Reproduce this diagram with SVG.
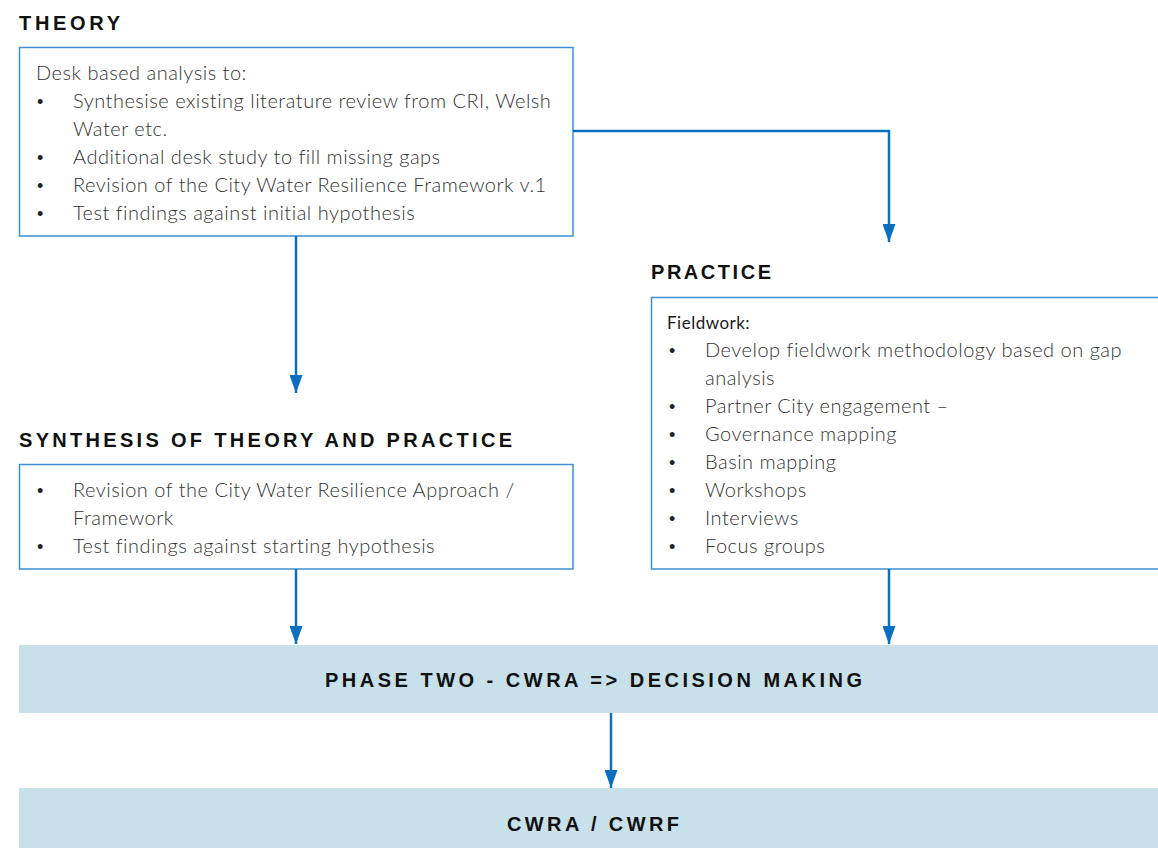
<svg xmlns="http://www.w3.org/2000/svg" width="1158" height="848" viewBox="0 0 1158 848">
<defs>
<style>
.head{font-family:"Liberation Sans",Arial,sans-serif;font-weight:bold;font-size:20px;fill:#111;}
.box{fill:#fff;stroke:#3d8fd1;stroke-width:1.5;}
.band{fill:#c8e0ea;}
.body{font-family:Lato,"Liberation Sans",sans-serif;font-weight:300;font-size:20px;letter-spacing:0.5px;fill:#333;}
.bul{font-family:"Liberation Sans",Arial,sans-serif;font-size:18px;fill:#222;}
.lab{font-family:Lato,"Liberation Sans",sans-serif;font-size:17px;letter-spacing:0.5px;fill:#1a1a1a;}
.bandtxt{font-family:"Liberation Sans",Arial,sans-serif;font-weight:bold;font-size:20px;fill:#111;}
.conn{fill:none;stroke:#0a6fbf;stroke-width:2.5;}
</style>
<marker id="ah" markerWidth="18" markerHeight="13" refX="18" refY="6.5" orient="auto" markerUnits="userSpaceOnUse" viewBox="0 0 18 13">
<path d="M0,0 L18,6.5 L0,13 Z" fill="#0a6fbf"/>
</marker>
</defs>

<g id="theory">
<text class="head" x="19" y="30" textLength="101" lengthAdjust="spacing">THEORY</text>
<rect class="box" x="19.5" y="47.5" width="553.5" height="188.5"/>
<text class="body" x="36" y="80">Desk based analysis to:</text>
<text class="bul" x="37" y="108">•</text><text class="body" x="73" y="108">Synthesise existing literature review from CRI, Welsh</text>
<text class="body" x="73" y="136">Water etc.</text>
<text class="bul" x="37" y="164">•</text><text class="body" x="73" y="164">Additional desk study to fill missing gaps</text>
<text class="bul" x="37" y="192">•</text><text class="body" x="73" y="192">Revision of the City Water Resilience Framework v.1</text>
<text class="bul" x="37" y="220">•</text><text class="body" x="73" y="220">Test findings against initial hypothesis</text>
</g>

<g id="practice">
<text class="head" x="651" y="279" textLength="120" lengthAdjust="spacing">PRACTICE</text>
<rect class="box" x="651.5" y="297.5" width="520" height="271.5"/>
<text class="lab" x="667" y="329">Fieldwork:</text>
<text class="bul" x="669" y="357">•</text><text class="body" x="705" y="357">Develop fieldwork methodology based on gap</text>
<text class="body" x="705" y="385">analysis</text>
<text class="bul" x="669" y="413">•</text><text class="body" x="705" y="413">Partner City engagement –</text>
<text class="bul" x="669" y="441">•</text><text class="body" x="705" y="441">Governance mapping</text>
<text class="bul" x="669" y="469">•</text><text class="body" x="705" y="469">Basin mapping</text>
<text class="bul" x="669" y="497">•</text><text class="body" x="705" y="497">Workshops</text>
<text class="bul" x="669" y="525">•</text><text class="body" x="705" y="525">Interviews</text>
<text class="bul" x="669" y="553">•</text><text class="body" x="705" y="553">Focus groups</text>
</g>

<g id="synthesis">
<text class="head" x="19" y="447" textLength="493" lengthAdjust="spacing">SYNTHESIS OF THEORY AND PRACTICE</text>
<rect class="box" x="19.5" y="464.5" width="553.5" height="104.5"/>
<text class="bul" x="37" y="497">•</text><text class="body" x="73" y="497">Revision of the City Water Resilience Approach /</text>
<text class="body" x="73" y="525">Framework</text>
<text class="bul" x="37" y="553">•</text><text class="body" x="73" y="553">Test findings against starting hypothesis</text>
</g>

<g id="phase-two">
<rect class="band" x="19" y="645" width="1139" height="68"/>
<text class="bandtxt" x="593.5" y="687" text-anchor="middle" textLength="537" lengthAdjust="spacing">PHASE TWO - CWRA =&gt; DECISION MAKING</text>
</g>

<g id="cwra-cwrf">
<rect class="band" x="19" y="788" width="1139" height="60"/>
<text class="bandtxt" x="593" y="831" text-anchor="middle" textLength="172" lengthAdjust="spacing">CWRA / CWRF</text>
</g>

<g id="connectors">
<polyline class="conn" points="573,131 889,131 889,242" marker-end="url(#ah)"/>
<line class="conn" x1="296" y1="236" x2="296" y2="393" marker-end="url(#ah)"/>
<line class="conn" x1="296" y1="569" x2="296" y2="644" marker-end="url(#ah)"/>
<line class="conn" x1="889" y1="569" x2="889" y2="644" marker-end="url(#ah)"/>
<line class="conn" x1="611" y1="713" x2="611" y2="788" marker-end="url(#ah)"/>
</g>
</svg>
